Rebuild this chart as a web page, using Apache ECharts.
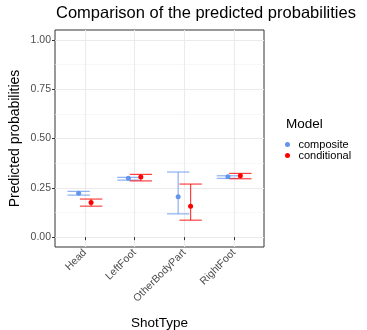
<!DOCTYPE html>
<html><head><meta charset="utf-8">
<script src="https://cdn.jsdelivr.net/npm/echarts@6/dist/echarts.min.js"></script>
<style>html,body{margin:0;padding:0;background:#fff}#c{width:367px;height:330px}</style>
</head><body><div id="c"></div>
<script>
const categories = ['Head', 'LeftFoot', 'OtherBodyPart', 'RightFoot'];
const compositeEst = [0.222, 0.298, 0.205, 0.306];
const compositeLo  = [0.213, 0.289, 0.118, 0.298];
const compositeHi  = [0.232, 0.303, 0.330, 0.311];
const conditionalEst = [0.176, 0.305, 0.157, 0.311];
const conditionalLo  = [0.157, 0.285, 0.086, 0.296];
const conditionalHi  = [0.193, 0.318, 0.269, 0.323];
const yTicks = [0, 0.25, 0.5, 0.75, 1];
const yMinor = [0.125, 0.375, 0.625, 0.875];

const dodge = 0.125, capHalf = 0.225;
const FONT = 'Liberation Sans, Arial, sans-serif';

function barData(lo, hi, off) {
  return categories.map((c, i) => [i + 1 + off, lo[i], hi[i]]);
}
function ptData(est, off) {
  return categories.map((c, i) => [i + 1 + off, est[i]]);
}
function errSeries(name, data, color) {
  return {
    type: 'custom', name: name, data: data, silent: true, z: 2,
    renderItem: function (params, api) {
      const x = api.value(0), lo = api.value(1), hi = api.value(2);
      const pTop = api.coord([x, hi]), pBot = api.coord([x, lo]);
      const l1 = api.coord([x - capHalf, hi]), r1 = api.coord([x + capHalf, hi]);
      const l2 = api.coord([x - capHalf, lo]), r2 = api.coord([x + capHalf, lo]);
      const st = { stroke: color, lineWidth: 1.2, opacity: 0.75 };
      return { type: 'group', children: [
        { type: 'line', shape: { x1: pTop[0], y1: pTop[1], x2: pBot[0], y2: pBot[1] }, style: st },
        { type: 'line', shape: { x1: l1[0], y1: l1[1], x2: r1[0], y2: r1[1] }, style: st },
        { type: 'line', shape: { x1: l2[0], y1: l2[1], x2: r2[0], y2: r2[1] }, style: st }
      ]};
    }
  };
}

const chart = echarts.init(document.getElementById('c'), null, { renderer: 'canvas' });
chart.setOption({
  animation: false,
  textStyle: { fontFamily: FONT },
  title: [
    { text: 'Comparison of the predicted probabilities', left: 56, top: 5, padding: 0,
      textStyle: { fontSize: 16.5, fontWeight: 'normal', color: '#000', fontFamily: FONT } },
    { text: 'Model', left: 286, top: 117, padding: 0,
      textStyle: { fontSize: 13.5, fontWeight: 'normal', color: '#000', fontFamily: FONT } }
  ],
  legend: {
    orient: 'vertical', left: 285, top: 139, padding: 0, itemWidth: 12, itemHeight: 5, itemGap: 0,
    data: [{ name: 'composite', icon: 'circle' }, { name: 'conditional', icon: 'circle' }],
    textStyle: { fontSize: 11, lineHeight: 10, color: '#000', fontFamily: FONT }
  },
  grid: { left: 55, right: 103, top: 30, bottom: 83, show: true, borderColor: '#333', borderWidth: 1,
    containLabel: false, outerBoundsMode: 'none' },
  xAxis: [{
    type: 'value', min: 0.4, max: 4.6,
    name: 'ShotType', nameLocation: 'middle', nameGap: 69, nameMoveOverlap: false,
    nameTextStyle: { fontSize: 13.5, color: '#000', fontFamily: FONT },
    axisLine: { show: false },
    axisTick: { show: true, length: 3, customValues: [1, 2, 3, 4], lineStyle: { color: '#333' } },
    axisLabel: { customValues: [1, 2, 3, 4], rotate: 45, fontSize: 10.5, color: '#4d4d4d', margin: 4,
      formatter: v => categories[Math.round(v) - 1] || '' },
    splitLine: { show: true, lineStyle: { color: '#ebebeb', width: 1.1 } }
  }],
  yAxis: [{
    type: 'value', min: -0.05, max: 1.05,
    name: 'Predicted probabilities', nameLocation: 'middle', nameGap: 33, nameMoveOverlap: false,
    nameTextStyle: { fontSize: 14, color: '#000', fontFamily: FONT },
    axisLine: { show: false },
    axisTick: { show: true, length: 3, customValues: yTicks, lineStyle: { color: '#333' } },
    axisLabel: { customValues: yTicks, fontSize: 10.5, color: '#4d4d4d', margin: 4,
      formatter: v => v.toFixed(2) },
    splitLine: { show: true, lineStyle: { color: '#ebebeb', width: 1.1 } }
  }, {
    type: 'value', min: -0.05, max: 1.05, position: 'left',
    axisLine: { show: false },
    axisTick: { show: false, customValues: yMinor },
    axisLabel: { show: false, customValues: yMinor },
    splitLine: { show: true, lineStyle: { color: '#f2f2f2', width: 0.6 } }
  }],
  series: [
    errSeries('composite-err', barData(compositeLo, compositeHi, -dodge), '#6495ED'),
    errSeries('conditional-err', barData(conditionalLo, conditionalHi, dodge), '#FF0000'),
    { type: 'scatter', name: 'composite', data: ptData(compositeEst, -dodge), symbolSize: 5,
      itemStyle: { color: '#6495ED', opacity: 1 }, z: 3 },
    { type: 'scatter', name: 'conditional', data: ptData(conditionalEst, dodge), symbolSize: 5,
      itemStyle: { color: '#FF0000', opacity: 1 }, z: 3 }
  ]
});
</script>
</body></html>
